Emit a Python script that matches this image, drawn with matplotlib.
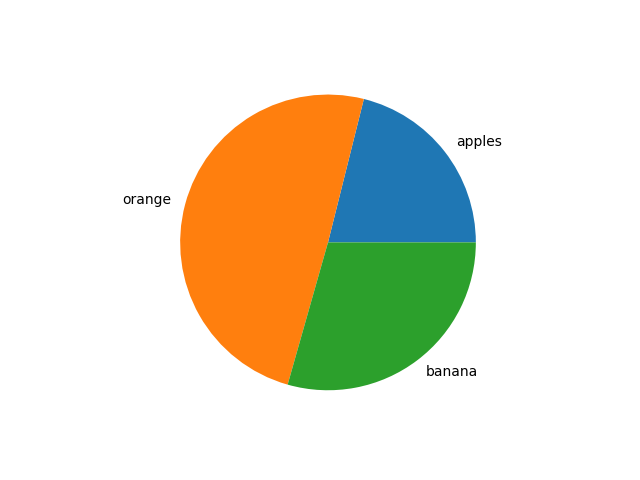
import matplotlib
matplotlib.use("Agg")
import matplotlib.pyplot as plt

labels = ["apples", "orange", "banana"]
values = [21.1, 49.5, 29.4]

fig, ax = plt.subplots(figsize=(6.4, 4.8), dpi=100)
ax.pie(values, labels=labels)
fig.savefig("out.png")
